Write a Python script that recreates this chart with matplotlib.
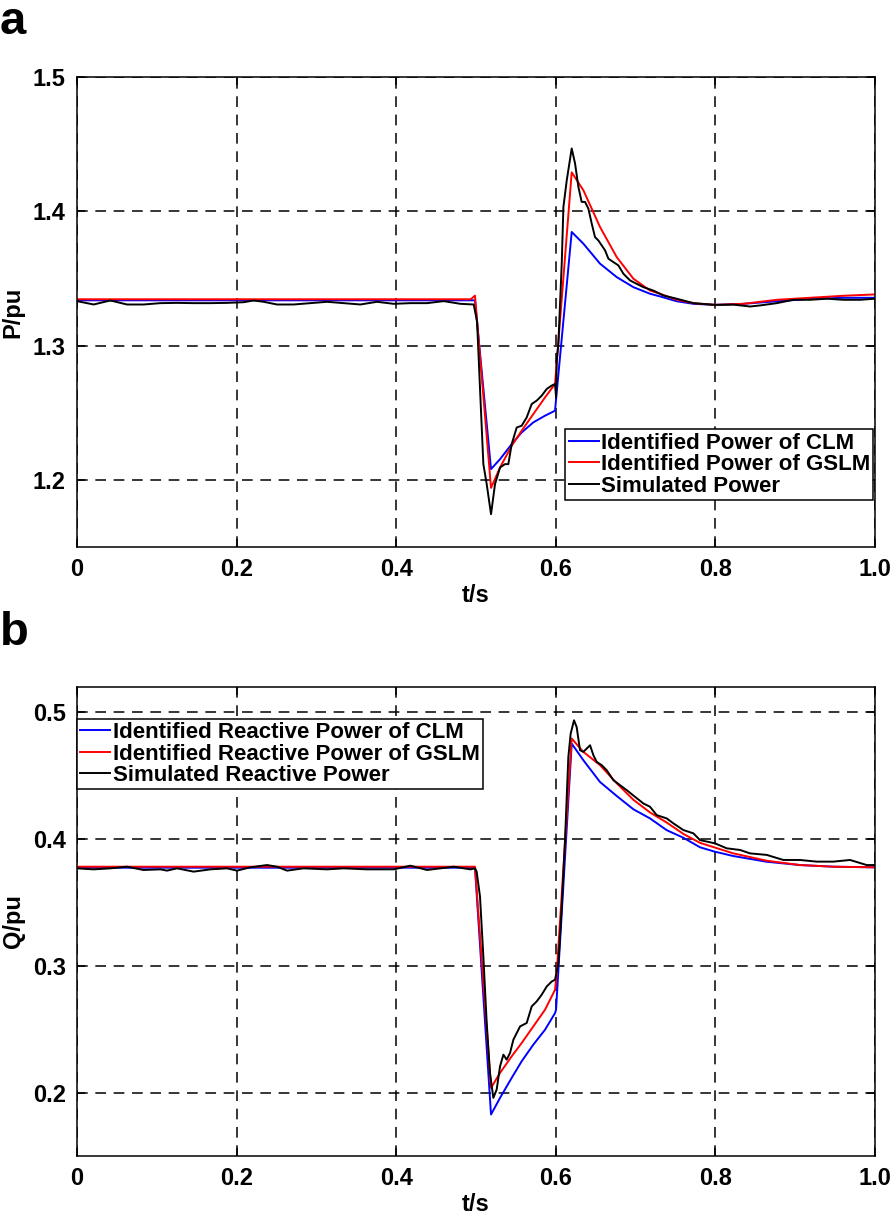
import matplotlib.pyplot as plt

plt.rcParams['font.family'] = ['Liberation Sans', 'DejaVu Sans']
plt.rcParams['font.weight'] = 'bold'

# ---- panel a: active power ----
t_clm_p = [0.0, 0.4987, 0.5188, 0.5301, 0.5447, 0.5572, 0.5718, 0.5865, 0.599, 0.6003,
           0.6199, 0.6345, 0.6554, 0.6763, 0.6972, 0.718, 0.7306, 0.7515, 0.7724, 0.7995,
           0.835, 0.8768, 0.9186, 0.9604, 1.0]
p_clm = [1.3337, 1.3337, 1.2080, 1.2154, 1.2266, 1.2353, 1.2428, 1.2478, 1.2515, 1.2600,
         1.3846, 1.3759, 1.3610, 1.3510, 1.3435, 1.3386, 1.3366, 1.3330, 1.3311, 1.3303,
         1.3311, 1.3330, 1.3348, 1.3356, 1.3356]

t_gslm_p = [0.0, 0.4935, 0.4987, 0.5188, 0.5301, 0.5447, 0.5572, 0.5718, 0.5865, 0.599,
            0.6199, 0.6345, 0.6554, 0.6763, 0.6972, 0.718, 0.7306, 0.7515, 0.7724, 0.7995,
            0.835, 0.8768, 0.9186, 0.9604, 1.0]
p_gslm = [1.3345, 1.3345, 1.3372, 1.1940, 1.2092, 1.2254, 1.2366, 1.2490, 1.2614, 1.2714,
          1.4290, 1.4157, 1.3883, 1.3659, 1.3498, 1.3410, 1.3386, 1.3341, 1.3316, 1.3303,
          1.3311, 1.3341, 1.3356, 1.3371, 1.3381]

t_sim_p = [0.0, 0.0209, 0.0418, 0.0627, 0.0835, 0.1044, 0.1253, 0.1462, 0.1671, 0.188,
           0.2089, 0.2214, 0.2339, 0.2506, 0.2715, 0.2924, 0.3133, 0.3342, 0.3551, 0.3759,
           0.3968, 0.4177, 0.4386, 0.4595, 0.4804, 0.4971, 0.5013, 0.5092, 0.5134, 0.5188,
           0.5238, 0.5301, 0.5363, 0.5405, 0.5447, 0.5510, 0.5572, 0.5635, 0.5698, 0.5760,
           0.5823, 0.5886, 0.5948, 0.5990, 0.6003, 0.6011, 0.6032, 0.6074, 0.6095, 0.6137,
           0.6199, 0.6241, 0.6283, 0.6324, 0.6366, 0.6408, 0.6450, 0.6491, 0.6533, 0.6575,
           0.6617, 0.6659, 0.6721, 0.6784, 0.6847, 0.6930, 0.7013, 0.7097, 0.7222, 0.7347,
           0.7515, 0.7724, 0.7995, 0.8225, 0.8434, 0.8559, 0.8768, 0.8977, 0.9186, 0.9395,
           0.9604, 0.9812, 1.0]
p_sim = [1.3331, 1.3306, 1.3336, 1.3306, 1.3306, 1.3316, 1.3318, 1.3316, 1.3316, 1.3318,
         1.3323, 1.3336, 1.3326, 1.3306, 1.3306, 1.3316, 1.3326, 1.3316, 1.3306, 1.3326,
         1.3311, 1.3316, 1.3316, 1.3331, 1.3311, 1.3306, 1.3180, 1.2117, 1.1968, 1.1744,
         1.1968, 1.2092, 1.2117, 1.2117, 1.2266, 1.2390, 1.2403, 1.2465, 1.2565, 1.2590,
         1.2627, 1.2677, 1.2702, 1.2714, 1.2614, 1.2888, 1.3013, 1.3610, 1.4032, 1.4231,
         1.4468, 1.4356, 1.4181, 1.4070, 1.4070, 1.4020, 1.3908, 1.3808, 1.3783, 1.3746,
         1.3709, 1.3647, 1.3622, 1.3597, 1.3535, 1.3485, 1.3460, 1.3435, 1.3410, 1.3373,
         1.3349, 1.3316, 1.3303, 1.3305, 1.3291, 1.3299, 1.3316, 1.3341, 1.3341, 1.3349,
         1.3341, 1.3341, 1.3349]

# ---- panel b: reactive power ----
t_clm_q = [0.0, 0.4987, 0.5188, 0.5301, 0.5447, 0.5572, 0.5718, 0.5865, 0.599, 0.6003,
           0.6199, 0.6345, 0.6554, 0.6763, 0.6972, 0.718, 0.739, 0.760, 0.7807, 0.7995,
           0.8225, 0.8643, 0.906, 0.9478, 1.0]
q_clm = [0.3774, 0.3774, 0.1827, 0.1958, 0.2116, 0.2247, 0.2378, 0.2496, 0.2627, 0.2654,
         0.4753, 0.4622, 0.4450, 0.4340, 0.4235, 0.4163, 0.4070, 0.4010, 0.3935, 0.3900,
         0.3866, 0.3821, 0.3795, 0.3782, 0.3777]

t_gslm_q = [0.0, 0.4987, 0.5188, 0.5301, 0.5447, 0.5572, 0.5718, 0.5865, 0.599, 0.6011,
            0.6199, 0.6345, 0.6554, 0.6763, 0.6972, 0.718, 0.739, 0.760, 0.7807, 0.8225,
            0.8643, 0.906, 0.9478, 1.0]
q_gslm = [0.3782, 0.3782, 0.2037, 0.2155, 0.2286, 0.2391, 0.2522, 0.2654, 0.2811, 0.2942,
          0.4793, 0.4688, 0.4583, 0.4440, 0.4310, 0.4210, 0.4130, 0.4040, 0.3970, 0.3887,
          0.3829, 0.3795, 0.3782, 0.3777]

t_sim_q = [0.0, 0.0209, 0.0418, 0.0627, 0.0835, 0.1044, 0.1128, 0.1253, 0.1462, 0.1671,
           0.188, 0.2005, 0.2172, 0.2381, 0.2506, 0.2632, 0.2840, 0.3133, 0.3342, 0.3634,
           0.3968, 0.4177, 0.4386, 0.4720, 0.4929, 0.4987, 0.5008, 0.5050, 0.5092, 0.5134,
           0.5175, 0.5217, 0.5259, 0.5301, 0.5343, 0.5384, 0.5426, 0.5468, 0.5552, 0.5635,
           0.5698, 0.5760, 0.5823, 0.5886, 0.5948, 0.5990, 0.6032, 0.6074, 0.6115, 0.6157,
           0.6186, 0.6228, 0.6261, 0.6303, 0.6345, 0.6387, 0.6429, 0.6471, 0.6512, 0.6575,
           0.6638, 0.6721, 0.6805, 0.6888, 0.6993, 0.7097, 0.7180, 0.7264, 0.7389, 0.7473,
           0.7598, 0.7724, 0.7807, 0.7995, 0.8141, 0.8308, 0.8434, 0.8643, 0.8851, 0.9060,
           0.9269, 0.9478, 0.9687, 0.9896, 1.0]
q_sim = [0.3769, 0.3761, 0.3769, 0.3782, 0.3756, 0.3761, 0.3751, 0.3769, 0.3743, 0.3761,
         0.3769, 0.3751, 0.3777, 0.3795, 0.3782, 0.3751, 0.3769, 0.3761, 0.3769, 0.3761,
         0.3761, 0.3790, 0.3756, 0.3782, 0.3761, 0.3769, 0.3743, 0.3546, 0.3073, 0.2549,
         0.2155, 0.1958, 0.2024, 0.2207, 0.2299, 0.2260, 0.2312, 0.2417, 0.2522, 0.2549,
         0.2680, 0.2719, 0.2772, 0.2837, 0.2876, 0.2890, 0.3021, 0.3467, 0.3992, 0.4648,
         0.4832, 0.4937, 0.4884, 0.4701, 0.4688, 0.4714, 0.4740, 0.4661, 0.4609, 0.4583,
         0.4543, 0.4465, 0.4425, 0.4386, 0.4333, 0.4281, 0.4255, 0.4189, 0.4163, 0.4124,
         0.4071, 0.4045, 0.3992, 0.3966, 0.3927, 0.3914, 0.3887, 0.3875, 0.3835, 0.3835,
         0.3822, 0.3822, 0.3835, 0.3795, 0.3795]

x_ticks = [0, 0.2, 0.4, 0.6, 0.8, 1.0]
x_ticklabels = ['0', '0.2', '0.4', '0.6', '0.8', '1.0']


def style_axes(ax, ylim, yticks, ylabel):
    ax.set_xlim(0, 1)
    ax.set_ylim(*ylim)
    ax.set_xticks(x_ticks)
    ax.set_xticklabels(x_ticklabels)
    ax.set_yticks(yticks)
    ax.set_yticklabels(['%.1f' % v for v in yticks])
    ax.grid(True, color='black', linestyle=(0, (7, 5)), linewidth=1.1)
    ax.tick_params(direction='in', length=6, width=1.1, top=True, right=True,
                   labelsize=17, pad=8)
    for s in ax.spines.values():
        s.set_linewidth(1.1)
    ax.set_xlabel('t/s', fontsize=17, fontweight='bold', labelpad=2)
    ax.set_ylabel(ylabel, fontsize=17, fontweight='bold', labelpad=6)


def add_legend(ax, loc, anchor):
    leg = ax.legend(loc=loc, bbox_to_anchor=anchor,
                    prop={'weight': 'bold', 'size': 16}, fancybox=False, framealpha=1,
                    edgecolor='black', handlelength=1.35, handletextpad=0.1,
                    borderpad=0.15, labelspacing=0.02, borderaxespad=0)
    leg.get_frame().set_linewidth(1.1)
    return leg


fig = plt.figure(figsize=(8.92, 12.15), dpi=100)
ax1 = fig.add_axes([0.0863, 0.5498, 0.8947, 0.3868])
ax2 = fig.add_axes([0.0863, 0.0486, 0.8947, 0.3860])

ax1.plot(t_clm_p, p_clm, color='#0000ff', lw=1.4, label='Identified Power of CLM')
ax1.plot(t_gslm_p, p_gslm, color='#ff0000', lw=1.4, label='Identified Power of GSLM')
ax1.plot(t_sim_p, p_sim, color='black', lw=1.4, label='Simulated Power')
style_axes(ax1, (1.15, 1.5), [1.2, 1.3, 1.4, 1.5], 'P/pu')
add_legend(ax1, 'lower right', (0.998, 0.1))

ax2.plot(t_clm_q, q_clm, color='#0000ff', lw=1.4, label='Identified Reactive Power of CLM')
ax2.plot(t_gslm_q, q_gslm, color='#ff0000', lw=1.4, label='Identified Reactive Power of GSLM')
ax2.plot(t_sim_q, q_sim, color='black', lw=1.4, label='Simulated Reactive Power')
style_axes(ax2, (0.15, 0.52), [0.2, 0.3, 0.4, 0.5], 'Q/pu')
add_legend(ax2, 'upper left', (0.0, 0.932))

fig.text(0.0, 1.0, 'a', fontsize=34, fontweight='bold', ha='left', va='top')
fig.text(0.0, 0.497, 'b', fontsize=34, fontweight='bold', ha='left', va='top')

fig.savefig('out.png', dpi=100)
